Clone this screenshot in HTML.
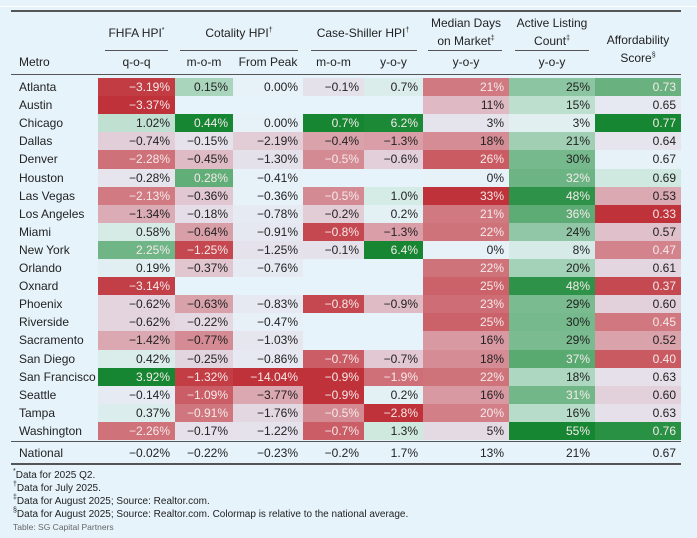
<!DOCTYPE html>
<html><head><meta charset="utf-8">
<style>
html,body{margin:0;padding:0;}
body{width:697px;height:538px;background:#e6f3fb;position:relative;overflow:hidden;font-family:"Liberation Sans","DejaVu Sans",sans-serif;color:#222;}
.a{position:absolute;white-space:nowrap;}
.c{position:absolute;height:18px;line-height:18px;font-size:12px;text-align:right;box-sizing:border-box;padding-right:5px;}
.h{position:absolute;font-size:12px;text-align:center;line-height:15px;}
.rule{position:absolute;background:#555;}
sup{font-size:7px;vertical-align:5px;}
.fn{position:absolute;left:13px;font-size:10px;white-space:nowrap;}
</style></head>
<body>
<div class="a" style="left:0;top:6px;width:697px;height:1px;background:#fff"></div>
<div class="rule" style="left:11px;top:10px;width:670px;height:2px"></div>

<div class="h" style="left:98px;top:23px;width:77px">FHFA HPI<sup>*</sup></div>
<div class="h" style="left:175px;top:23px;width:128px">Cotality HPI<sup>†</sup></div>
<div class="h" style="left:303px;top:23px;width:120px">Case-Shiller HPI<sup>†</sup></div>
<div class="h" style="left:423px;top:16px;width:86px">Median Days<br>on Market<sup>‡</sup></div>
<div class="h" style="left:509px;top:16px;width:86px">Active Listing<br>Count<sup>‡</sup></div>
<div class="h" style="left:595px;top:33px;width:86px">Affordability<br>Score<sup>§</sup></div>

<div class="rule" style="left:105px;top:50px;width:63px;height:1px"></div>
<div class="rule" style="left:180px;top:50px;width:118px;height:1px"></div>
<div class="rule" style="left:311px;top:50px;width:106px;height:1px"></div>
<div class="rule" style="left:428px;top:50px;width:74px;height:1px"></div>
<div class="rule" style="left:515px;top:50px;width:74px;height:1px"></div>

<div class="a" style="left:19px;top:55px;font-size:12px">Metro</div>
<div class="h" style="left:98px;top:55px;width:77px">q-o-q</div>
<div class="h" style="left:175px;top:55px;width:58px">m-o-m</div>
<div class="h" style="left:233px;top:55px;width:70px">From Peak</div>
<div class="h" style="left:303px;top:55px;width:61px">m-o-m</div>
<div class="h" style="left:364px;top:55px;width:59px">y-o-y</div>
<div class="h" style="left:423px;top:55px;width:86px">y-o-y</div>
<div class="h" style="left:509px;top:55px;width:86px">y-o-y</div>
<div class="rule" style="left:11px;top:74px;width:670px;height:1px"></div>

<div id="body"></div>

<div class="rule" style="left:11px;top:441px;width:670px;height:1px"></div>
<div class="rule" style="left:11px;top:463px;width:670px;height:2px"></div>

<div class="fn" style="top:468px"><sup>*</sup>Data for 2025 Q2.</div>
<div class="fn" style="top:481px"><sup>†</sup>Data for July 2025.</div>
<div class="fn" style="top:494px"><sup>‡</sup>Data for August 2025; Source: Realtor.com.</div>
<div class="fn" style="top:507px"><sup>§</sup>Data for August 2025; Source: Realtor.com. Colormap is relative to the national average.</div>
<div class="fn" style="top:522px;font-size:8.5px;color:#666">Table: SG Capital Partners</div>

<script>
const metros = ["Atlanta","Austin","Chicago","Dallas","Denver","Houston","Las Vegas","Los Angeles","Miami","New York","Orlando","Oxnard","Phoenix","Riverside","Sacramento","San Diego","San Francisco","Seattle","Tampa","Washington"];
const fhfaQoq = [-3.19,-3.37,1.02,-0.74,-2.28,-0.28,-2.13,-1.34,0.58,2.25,0.19,-3.14,-0.62,-0.62,-1.42,0.42,3.92,-0.14,0.37,-2.26];
const cotMom = [0.15,null,0.44,-0.15,-0.45,0.28,-0.36,-0.18,-0.64,-1.25,-0.37,null,-0.63,-0.22,-0.77,-0.25,-1.32,-1.09,-0.91,-0.17];
const cotPeak = [0.00,null,0.00,-2.19,-1.30,-0.41,-0.36,-0.78,-0.91,-1.25,-0.76,null,-0.83,-0.47,-1.03,-0.86,-14.04,-3.77,-1.76,-1.22];
const csMom = [-0.1,null,0.7,-0.4,-0.5,null,-0.5,-0.2,-0.8,-0.1,null,null,-0.8,null,null,-0.7,-0.9,-0.9,-0.5,-0.7];
const csYoy = [0.7,null,6.2,-1.3,-0.6,null,1.0,0.2,-1.3,6.4,null,null,-0.9,null,null,-0.7,-1.9,0.2,-2.8,1.3];
const daysYoy = [21,11,3,18,26,0,33,21,22,0,22,25,23,25,16,18,22,16,20,5];
const listingYoy = [25,15,3,21,30,32,48,36,24,8,20,48,29,30,29,37,18,31,16,55];
const afford = [0.73,0.65,0.77,0.64,0.67,0.69,0.53,0.33,0.57,0.47,0.61,0.37,0.60,0.45,0.52,0.40,0.63,0.60,0.63,0.76];
const national = ["−0.02%","−0.22%","−0.23%","−0.2%","1.7%","13%","21%","0.67"];

const cols = [
  {data:fhfaQoq, x:98,w:77, fmt:v=>fmtP(v,2), c:0, ns:3.37, ps:3.92, dir:1, name:'fhfa-qoq'},
  {data:cotMom, x:175,w:58, fmt:v=>fmtP(v,2), c:0, ns:1.4, ps:0.44, dir:1, name:'cotality-mom'},
  {data:cotPeak, x:233,w:70, fmt:v=>fmtP(v,2), c:-0.4, ns:8, ps:1000, dir:1, name:'cotality-from-peak'},
  {data:csMom, x:303,w:61, fmt:v=>fmtP(v,1), c:0, ns:0.9, ps:0.7, dir:1, name:'cs-mom'},
  {data:csYoy, x:364,w:59, fmt:v=>fmtP(v,1), c:0, ns:2.8, ps:6.4, dir:1, name:'cs-yoy'},
  {data:daysYoy, x:423,w:86, fmt:v=>v+'%', c:0, ns:1, ps:33, dir:-1, name:'days-yoy'},
  {data:listingYoy, x:509,w:86, fmt:v=>v+'%', c:0, ns:1, ps:55, dir:1, name:'listing-yoy'},
  {data:afford, x:595,w:86, fmt:v=>v.toFixed(2), c:0.67, ns:0.34, ps:0.10, dir:1, name:'affordability'}
];
function fmtP(v,d){const s=Math.abs(v).toFixed(d)+'%';return v<0?'−'+s:s;}
const negStops=[[0,[231,241,248]],[0.12,[229,224,234]],[0.35,[222,182,192]],[0.65,[208,118,126]],[1,[192,50,58]]];
const posStops=[[0,[231,241,248]],[0.2,[208,233,224]],[0.5,[128,190,150]],[0.8,[60,155,85]],[1,[22,134,50]]];
function interp(st,t){for(let i=1;i<st.length;i++){if(t<=st[i][0]){const a=st[i-1],b=st[i];const f=(t-a[0])/(b[0]-a[0]);return a[1].map((x,k)=>Math.round(x+(b[1][k]-x)*f));}}return st[st.length-1][1];}
function colorFor(col,v){
  if(col.dir<0){
    const t=Math.min(1,Math.abs(v-col.c)/col.ps);
    return {rgb:interp(negStops,t),t};
  }
  const d=v-col.c;
  const t=d>=0?Math.min(1,d/col.ps):Math.min(1,-d/col.ns);
  return {rgb:d>=0?interp(posStops,t):interp(negStops,t),t};
}
const body=document.getElementById('body');
metros.forEach((m,i)=>{
  const y=78+i*18.1;
  const lab=document.createElement('div');
  lab.className='c';
  lab.style.cssText=`left:19px;top:${y}px;width:80px;text-align:left;padding:0`;
  lab.textContent=m;
  
  
  body.appendChild(lab);
  cols.forEach(col=>{
    const v=col.data[i];
    if(v===null||v===undefined) return;
    const cell=document.createElement('div');
    cell.className='c';
    const {rgb,t}=colorFor(col,v);
    cell.style.cssText=`left:${col.x}px;top:${y}px;width:${col.w}px;height:18.2px;background:rgb(${rgb.join(',')});color:${t>0.55?'#f4eaea':'#222'}`;
    cell.textContent=col.fmt(v);
    
    
    body.appendChild(cell);
  });
});
const ny=444;
const nl=document.createElement('div');
nl.className='c';
nl.style.cssText=`left:19px;top:${ny}px;width:80px;text-align:left;padding:0`;
nl.textContent='National';


body.appendChild(nl);
cols.forEach((col,k)=>{
  const cell=document.createElement('div');
  cell.className='c';
  cell.style.cssText=`left:${col.x}px;top:${ny}px;width:${col.w}px`;
  cell.textContent=national[k];
  
  
  body.appendChild(cell);
});
</script>
</body></html>
